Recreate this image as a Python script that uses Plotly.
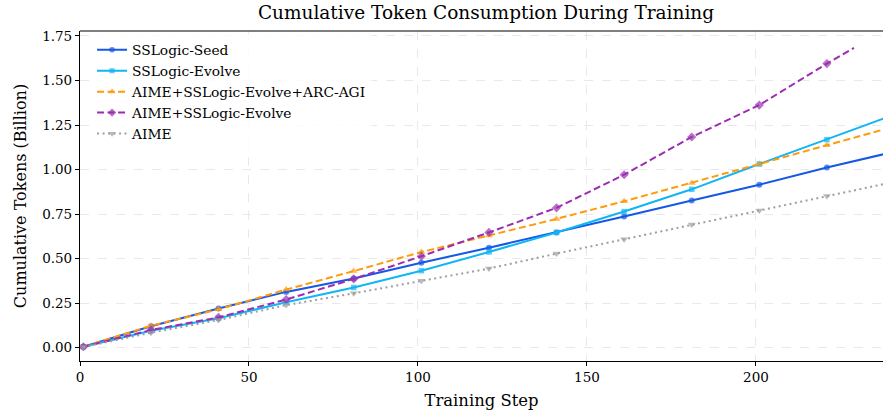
import plotly.graph_objects as go

# ---- data ----
steps = [1, 21, 41, 61, 81, 101, 121, 141, 161, 181, 201, 221]
end_step = 238
end_step_aime_evolve = 229

seed = [0.005, 0.12, 0.22, 0.313, 0.388, 0.477, 0.561, 0.647, 0.736, 0.826, 0.915, 1.012]
seed_end = 1.087
evolve = [0.005, 0.095, 0.165, 0.255, 0.338, 0.432, 0.537, 0.647, 0.764, 0.889, 1.031, 1.168]
evolve_end = 1.288
arc = [0.005, 0.123, 0.215, 0.326, 0.43, 0.537, 0.63, 0.723, 0.822, 0.925, 1.031, 1.137]
arc_end = 1.226
aime_evolve = [0.005, 0.099, 0.17, 0.27, 0.386, 0.513, 0.647, 0.785, 0.971, 1.183, 1.362, 1.595]
aime_evolve_end = 1.683
aime = [0.003, 0.084, 0.155, 0.239, 0.305, 0.376, 0.444, 0.528, 0.609, 0.691, 0.770, 0.852]
aime_end = 0.919

x_ticks = [0, 50, 100, 150, 200]
y_ticks = [0, 0.25, 0.5, 0.75, 1.0, 1.25, 1.5, 1.75]

FONT = "DejaVu Serif"

series = [
    ("SSLogic-Seed", seed, seed_end, end_step, "#1458e6", "solid", "circle", 6),
    ("SSLogic-Evolve", evolve, evolve_end, end_step, "#0fb5f5", "solid", "square", 5.5),
    ("AIME+SSLogic-Evolve+ARC-AGI", arc, arc_end, end_step, "#ff9a0a", "7px,3.5px", "triangle-up", 7),
    ("AIME+SSLogic-Evolve", aime_evolve, aime_evolve_end, end_step_aime_evolve, "#9c2db0", "7px,3.5px", "diamond", 7),
    ("AIME", aime, aime_end, end_step, "#9e9e9e", "2px,3.5px", "triangle-down", 7),
]

fig = go.Figure()
for name, vals, endv, endx, color, dash, sym, ms in series:
    xs = steps + [endx]
    ys = vals + [endv]
    sizes = [ms] * len(steps) + [0]
    fig.add_trace(go.Scatter(
        x=xs, y=ys, name=name, mode="lines+markers",
        line=dict(color=color, width=2, dash=dash),
        marker=dict(symbol=sym, size=sizes, color=color, line=dict(width=0)),
    ))

fig.update_layout(
    width=883, height=417,
    margin=dict(l=80, r=0, t=31, b=56),
    paper_bgcolor="white", plot_bgcolor="white",
    font=dict(family=FONT, size=13.5, color="black"),
    title=dict(text="Cumulative Token Consumption During Training",
               x=0.5504, xanchor="center", y=0.97, yanchor="middle",
               font=dict(family=FONT, size=18.5)),
    legend=dict(x=0.015, y=0.99, xanchor="left", yanchor="top",
                bgcolor="rgba(255,255,255,0.8)", borderwidth=0,
                font=dict(family=FONT, size=13.8), itemwidth=30),
    showlegend=True,
)
fig.update_xaxes(
    range=[0, 237.6], tickvals=x_ticks, ticks="outside", ticklen=4, tickcolor="black",
    showline=True, linecolor="black", linewidth=1.2, mirror=False,
    showgrid=True, gridcolor="#e8e8ee", griddash="dash", gridwidth=1,
    zeroline=False,
    title=dict(text="Training Step", font=dict(family=FONT, size=16.4), standoff=10),
    tickfont=dict(family=FONT, size=13.5),
)
fig.update_yaxes(
    range=[-0.075, 1.778], tickvals=y_ticks, tickformat=".2f", ticks="outside", ticklen=4,
    tickcolor="black", showline=True, linecolor="black", linewidth=1.2, mirror=False,
    showgrid=True, gridcolor="#e8e8ee", griddash="dash", gridwidth=1,
    zeroline=False,
    title=dict(text="Cumulative Tokens (Billion)", font=dict(family=FONT, size=16), standoff=11),
    tickfont=dict(family=FONT, size=13.5),
)
# top spine
fig.add_shape(type="line", xref="paper", yref="paper", x0=0, x1=1, y0=1, y1=1,
              line=dict(color="black", width=1.2))

fig.write_html("out.html")
